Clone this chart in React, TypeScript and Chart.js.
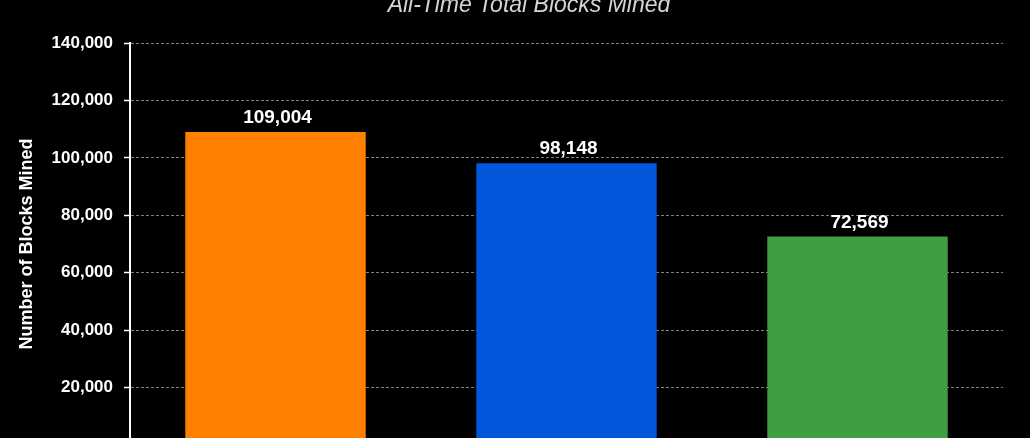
import { useEffect, useRef } from 'react';
import { Chart, registerables } from 'chart.js';

Chart.register(...registerables);

// data
const chartTitle = 'All-Time Total Blocks Mined';
const pools = ['Foundry USA', 'AntPool', 'F2Pool'];
const blocksMined = [109004, 98148, 72569];
const barColors = ['#ff8000', '#0057d9', '#3d9f41'];
const yTicks = [0, 20000, 40000, 60000, 80000, 100000, 120000, 140000];

const FONT = '"Liberation Sans", Arial, Helvetica, sans-serif';

// title (centred on the canvas, not on the plot) + numbers above each bar
const extraText = {
    id: 'extraText',
    afterDraw(chart: any) {
        const ctx = chart.ctx;
        ctx.save();
        ctx.font = 'italic 23px ' + FONT;
        ctx.fillStyle = '#d4d4d4';
        ctx.textAlign = 'center';
        ctx.textBaseline = 'alphabetic';
        ctx.fillText(chartTitle, 529, 30);
        ctx.restore();
    },
    afterDatasetsDraw(chart: any) {
        const ctx = chart.ctx;
        const meta = chart.getDatasetMeta(0);
        ctx.save();
        ctx.font = 'bold 19px ' + FONT;
        ctx.fillStyle = '#ffffff';
        ctx.textAlign = 'center';
        ctx.textBaseline = 'alphabetic';
        meta.data.forEach((bar: any, i: number) => {
            const v = chart.data.datasets[0].data[i];
            ctx.fillText(v.toLocaleString('en-US'), bar.x + 2, bar.y - 9);
        });
        ctx.restore();
    }
};

export default function App() {
    const canvasRef = useRef<HTMLCanvasElement>(null);

    useEffect(() => {
        if (!canvasRef.current) return;
        const grafico = new Chart(canvasRef.current, {
            type: 'bar',
            data: {
                labels: pools,
                datasets: [{
                    label: 'Blocks Mined',
                    data: blocksMined,
                    backgroundColor: barColors,
                    borderWidth: 0,
                    categoryPercentage: 1,
                    barPercentage: 0.62
                }]
            },
            options: {
                responsive: false,
                animation: false,
                maintainAspectRatio: false,
                layout: { padding: { left: 16, right: 27, top: 61, bottom: 17 } },
                plugins: {
                    legend: { display: false },
                    tooltip: { enabled: false },
                    title: { display: false }
                },
                scales: {
                    x: {
                        grid: { display: false },
                        border: { display: false },
                        ticks: { color: '#ffffff', font: { family: FONT, size: 17, weight: 'bold' }, padding: 8 },
                        afterFit: (scale: any) => { scale.height = 40; }
                    },
                    y: {
                        min: 0,
                        max: 140000,
                        afterBuildTicks: (scale: any) => {
                            scale.ticks = yTicks.map((v) => ({ value: v }));
                        },
                        afterFit: (scale: any) => { scale.width = 114; },
                        ticks: {
                            color: '#ffffff',
                            font: { family: FONT, size: 17, weight: 'bold' },
                            padding: 11,
                            callback: (v: any) => Number(v).toLocaleString('en-US')
                        },
                        grid: {
                            color: 'rgba(255,255,255,0.5)',
                            lineWidth: 1,
                            tickLength: 6,
                            tickColor: '#ffffff',
                            tickWidth: 1.5,
                            tickBorderDash: []
                        },
                        border: { display: true, color: '#ffffff', width: 2, dash: [3, 2] },
                        title: {
                            display: true,
                            text: 'Number of Blocks Mined',
                            color: '#ffffff',
                            font: { family: FONT, size: 18, weight: 'bold' },
                            padding: { top: 0, bottom: 0 }
                        }
                    }
                }
            },
            plugins: [extraText]
        });

        return () => {
            grafico.destroy();
        };
    }, []);

    return (
        <div style={{ position: 'fixed', left: 0, top: 0, width: '100vw', height: '100vh', backgroundColor: '#000', overflow: 'hidden' }}>
            <div style={{ position: 'absolute', left: 0, top: -18, width: 1030, height: 520 }}>
                <canvas ref={canvasRef} width={1030} height={520} style={{ width: 1030, height: 520, display: 'block' }}></canvas>
            </div>
        </div>
    );
}
